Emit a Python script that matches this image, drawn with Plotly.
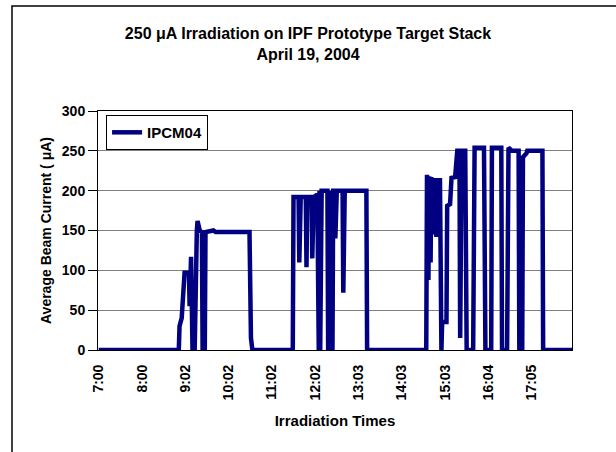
import plotly.graph_objects as go

# Sample index (approx. 1 sample per minute starting 7:00) and beam current (uA)
sample_index = [0, 111, 112, 115, 119, 125, 126, 127, 128, 130, 133, 136, 137, 140, 143, 144, 147, 148,
                159, 162, 209, 211, 213,
                269, 270, 277, 278, 280, 287, 288, 289, 295, 296, 298, 303, 305, 306, 307, 309,
                317, 318, 319, 320, 321, 322, 323, 324, 325, 327, 328, 330, 338, 339, 341, 371, 372,
                454, 455, 456, 457, 458, 459, 460, 461, 462, 463, 464, 465, 466, 467, 468, 469, 470,
                471, 473, 475, 476, 482, 483, 487, 489, 494, 497, 500, 501, 503, 508, 510,
                519, 521, 534, 536, 544, 545, 558, 559, 566, 568, 573, 582, 583, 587, 588, 593, 594,
                615, 616, 658]
beam_current = [0, 0, 30, 40, 97, 97, 55, 117, 117, 0, 0, 150, 162, 150, 148, 0, 0, 148,
                150, 148, 148, 15, 0,
                0, 192, 192, 110, 192, 192, 104, 192, 192, 115, 192, 195, 0, 200, 0, 200,
                200, 0, 200, 0, 200, 0, 200, 0, 200, 200, 140, 200, 200, 72, 200, 200, 0,
                0, 220, 150, 88, 218, 140, 110, 217, 145, 215, 150, 216, 150, 214, 142, 213, 145,
                213, 213, 0, 35, 35, 181, 183, 216, 217, 250, 250, 15, 250, 250, 0,
                0, 254, 254, 0, 0, 254, 254, 0, 0, 254, 250, 250, 0, 0, 242, 247, 250,
                250, 0, 0]

tick_positions = [0, 60, 120, 180, 240, 300, 360, 420, 480, 540, 600]
tick_labels = ["7:00", "8:00", "9:02", "10:02", "11:02", "12:02", "13:03", "14:03",
               "15:03", "16:04", "17:05"]
y_ticks = [0, 50, 100, 150, 200, 250, 300]

FONT = "Liberation Sans, Arial, sans-serif"

fig = go.Figure()
fig.add_trace(go.Scatter(
    x=sample_index, y=beam_current, mode="lines", name="<b>IPCM04</b>",
    line=dict(color="#000080", width=4.5),
))

fig.update_layout(
    width=616, height=452,
    margin=dict(l=98, r=44, t=111, b=102),
    paper_bgcolor="white", plot_bgcolor="white",
    font=dict(family=FONT, color="black", size=14),
    title=dict(text="<b>250 μA Irradiation on IPF Prototype Target Stack<br>April 19, 2004</b>",
               x=0.5, xanchor="center", y=0.914, yanchor="top",
               font=dict(size=16, family=FONT, color="black")),
    showlegend=True,
    legend=dict(x=0.017, y=0.983, xanchor="left", yanchor="top",
                bgcolor="white", bordercolor="black", borderwidth=1,
                font=dict(size=15, family=FONT, color="black"),
                itemwidth=30, tracegroupgap=0),
    xaxis=dict(range=[-1, 656], tickmode="array", tickvals=tick_positions,
               ticktext=["<b>%s</b>" % t for t in tick_labels], tickangle=-90,
               showgrid=False, zeroline=False, showline=True, linecolor="black",
               linewidth=1, mirror=True, ticks="outside", ticklen=8, tickcolor="rgba(0,0,0,0)",
               tickfont=dict(size=14),
               title=dict(text="<b>Irradiation Times</b>", font=dict(size=15), standoff=16)),
    yaxis=dict(range=[0, 300], tickvals=y_ticks,
               ticktext=["<b>%d</b>" % v for v in y_ticks],
               showgrid=True, gridcolor="#808080", gridwidth=1, zeroline=False,
               showline=True, linecolor="black", linewidth=1, mirror=True,
               ticks="outside", ticklen=9, tickcolor="black", tickfont=dict(size=14),
               title=dict(text="<b>Average Beam Current ( μA)</b>", font=dict(size=14), standoff=6)),
)

# Outer chart border (top-left corner visible, extends beyond the image)
fig.add_shape(type="rect", xref="paper", yref="paper",
              x0=(12 - 98) / 474, x1=(640 - 98) / 474,
              y0=(350 - 480) / 239, y1=(350 - 6) / 239,
              line=dict(color="black", width=1.5), fillcolor="rgba(0,0,0,0)", layer="below")

fig.write_html("out.html", config={"displayModeBar": False},
               post_script="document.body.style.margin='0';document.body.style.overflow='hidden';")
